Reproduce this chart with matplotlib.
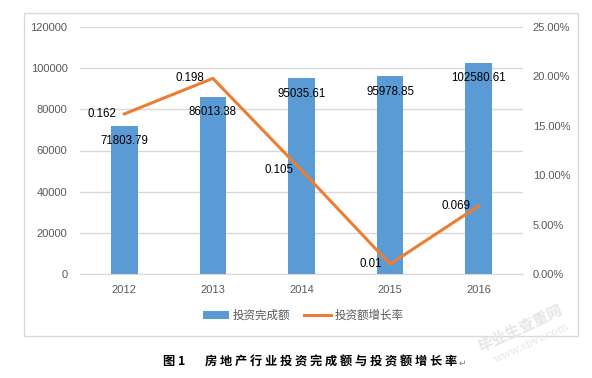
import matplotlib
matplotlib.use("Agg")
import matplotlib.pyplot as plt
from matplotlib.lines import Line2D
from matplotlib.patches import Patch, Rectangle
from matplotlib.ticker import FuncFormatter

plt.rcParams["font.family"] = ["Liberation Sans", "Noto Sans CJK SC", "DejaVu Sans"]

years = ["2012", "2013", "2014", "2015", "2016"]
invest_amount = [71803.79, 86013.38, 95035.61, 95978.85, 102580.61]
growth_rate = [0.162, 0.198, 0.105, 0.01, 0.069]
amount_ticks = [0, 20000, 40000, 60000, 80000, 100000, 120000]
rate_ticks = [0, 0.05, 0.10, 0.15, 0.20, 0.25]

BLUE = "#5B9BD5"
ORANGE = "#ED7D31"
GRID = "#D9D9D9"
TICK = "#595959"

W, H = 592, 378
fig = plt.figure(figsize=(W / 100, H / 100), dpi=100)

# outer chart border
fig.patches.append(Rectangle((24 / W, 1 - 336 / H), 554 / W, 323 / H,
                             transform=fig.transFigure, fill=False,
                             edgecolor=GRID, linewidth=1.0))

ax = fig.add_axes([80 / W, 1 - 274 / H, 443 / W, 247 / H])
x = list(range(len(years)))
ax.bar(x, invest_amount, width=0.3, color=BLUE, zorder=2)
ax.set_xlim(-0.5, len(years) - 0.5)
ax.set_ylim(0, 120000)
ax.set_yticks(amount_ticks)
ax.set_xticks(x)
ax.set_xticklabels(years)
ax.yaxis.grid(True, color=GRID, linewidth=1.0, zorder=0)
ax.set_axisbelow(True)
for side in ["top", "left", "right"]:
    ax.spines[side].set_visible(False)
ax.spines["bottom"].set_color(GRID)
ax.tick_params(axis="both", length=0, labelsize=8, colors=TICK)
ax.tick_params(axis="y", pad=9)
ax.tick_params(axis="x", pad=8)

for xi, v in zip(x, invest_amount):
    ax.annotate(f"{v:.2f}", (xi, v), xytext=(0, -11), textcoords="offset points",
                ha="center", va="center", fontsize=8.3, color="black", zorder=4)

ax2 = ax.twinx()
ax2.plot(x, growth_rate, color=ORANGE, linewidth=2.2, zorder=3)
ax2.set_ylim(0, 0.25)
ax2.set_yticks(rate_ticks)
ax2.yaxis.set_major_formatter(FuncFormatter(lambda v, p: f"{v * 100:.2f}%"))
for side in ["top", "left", "right", "bottom"]:
    ax2.spines[side].set_visible(False)
ax2.tick_params(axis="y", length=0, labelsize=8, colors=TICK, pad=7)

for xi, v in zip(x, growth_rate):
    ax2.annotate(f"{v:g}", (xi, v), xytext=(-6, 0), textcoords="offset points",
                 ha="right", va="center", fontsize=8.3, color="black")

handles = [Patch(facecolor=BLUE, edgecolor="none"),
           Line2D([0], [0], color=ORANGE, linewidth=2.2)]
fig.legend(handles, ["投资完成额", "投资额增长率"], loc="center",
           bbox_to_anchor=(303 / W, 1 - 316 / H), ncol=2, frameon=False,
           fontsize=8.3, labelcolor=TICK, handlelength=2.3, handleheight=0.6,
           columnspacing=1.2, handletextpad=0.3)

# figure caption
cap_font = dict(family=["Noto Sans CJK SC", "DejaVu Sans"], fontweight="bold",
                fontsize=8.8, va="center", color="black")
fig.text(163 / W, 1 - 362 / H, "图 1", ha="left", **cap_font)
fig.text(205 / W, 1 - 362 / H, "房 地 产 行 业 投 资 完 成 额 与 投 资 额 增 长 率",
         ha="left", **cap_font)
fig.text(459 / W, 1 - 363 / H, "↵", family=["DejaVu Sans"], fontsize=6.5,
         ha="left", va="center", color="#808080")

# faint watermark
fig.text(520 / W, 1 - 328 / H, "毕业生查重网", family=["Noto Sans CJK SC", "DejaVu Sans"],
         fontsize=11, fontweight="bold", rotation=25, ha="center", va="center",
         color="#E6E6E6")
fig.text(532 / W, 1 - 343 / H, "www.sbvv.com", family=["DejaVu Serif"],
         fontsize=8, rotation=25, ha="center", va="center", color="#E6E6E6")

fig.savefig("out.png", dpi=100)
